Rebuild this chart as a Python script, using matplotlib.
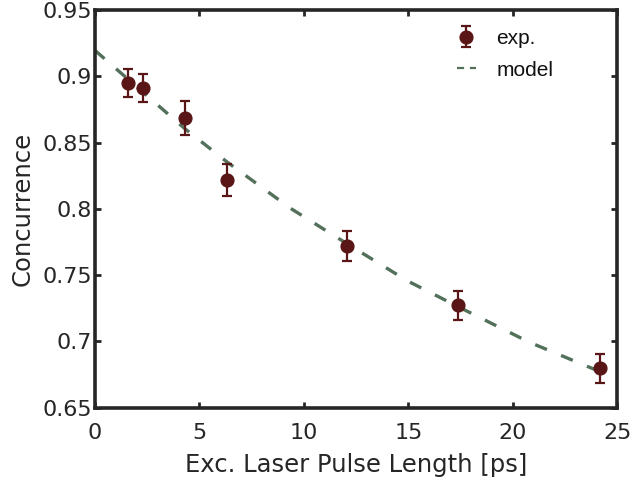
import matplotlib
matplotlib.use("Agg")
import matplotlib.pyplot as plt
from matplotlib.lines import Line2D

# Measured concurrence vs. excitation laser pulse length
pulse_ps = [1.60, 2.32, 4.32, 6.32, 12.07, 17.40, 24.16]
concurrence = [0.8947, 0.8914, 0.8686, 0.8216, 0.7721, 0.7271, 0.6795]
conc_err = [0.0106, 0.0104, 0.0130, 0.0122, 0.0115, 0.0110, 0.0110]

# Model curve
model_ps = [0.0, 4.32, 6.32, 9.35, 12.07, 14.95, 17.40, 20.78, 24.16, 24.70]
model_conc = [0.9196, 0.8603, 0.8354, 0.8005, 0.7736, 0.7457, 0.7260, 0.6994, 0.6772, 0.6750]

x_ticks = [0, 5, 10, 15, 20, 25]
y_ticks = [0.65, 0.7, 0.75, 0.8, 0.85, 0.9, 0.95]
y_ticklabels = ["0.65", "0.7", "0.75", "0.8", "0.85", "0.9", "0.95"]

text_color = "#262626"
point_color = "#5a1616"
model_color = "#52705a"

fig = plt.figure(figsize=(6.33, 4.82), dpi=100)
ax = fig.add_axes([0.150, 0.1545, 0.825, 0.8245])

ax.plot(model_ps, model_conc, color=model_color, lw=2.4,
        dashes=(3.8, 4.6), zorder=2)
exp_handle = ax.errorbar(pulse_ps, concurrence, yerr=conc_err, fmt="o",
                         color=point_color, ms=9.2, elinewidth=1.6,
                         capsize=3.8, capthick=1.6, zorder=3)

ax.set_xlim(0, 25)
ax.set_ylim(0.65, 0.95)
ax.set_xticks(x_ticks)
ax.set_yticks(y_ticks)
ax.set_yticklabels(y_ticklabels)

for side in ax.spines.values():
    side.set_linewidth(2.6)
    side.set_color(text_color)

ax.tick_params(direction="in", top=True, right=True, length=4.5, width=2,
               color=text_color, labelcolor=text_color, labelsize=16)
ax.tick_params(axis="x", pad=11)
ax.tick_params(axis="y", pad=2)

ax.set_xlabel("Exc. Laser Pulse Length [ps]", fontsize=17.5, color=text_color, labelpad=7)
ax.set_ylabel("Concurrence", fontsize=17.5, color=text_color, labelpad=6)

model_handle = Line2D([], [], color=model_color, lw=1.6, dashes=(3.2, 2.6))
leg = fig.legend([exp_handle, model_handle], ["exp.", "model"],
                 loc="upper left", bbox_to_anchor=(457 / 633, 1 - 29 / 482),
                 bbox_transform=fig.transFigure, frameon=False,
                 prop={"family": "Liberation Sans", "size": 15},
                 handlelength=0.9, handletextpad=1.0, labelspacing=0.6,
                 borderpad=0, borderaxespad=0)
for t in leg.get_texts():
    t.set_color("#111111")

fig.savefig("out.png", dpi=100)
